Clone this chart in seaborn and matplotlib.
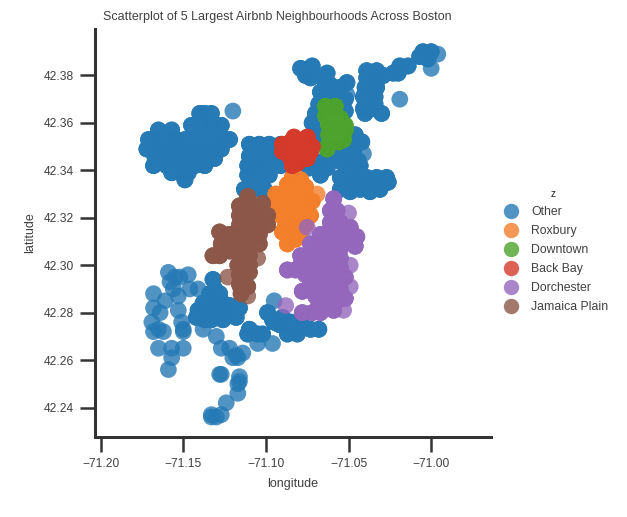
import numpy as np
import pandas as pd
import matplotlib
matplotlib.use("Agg")
import matplotlib.pyplot as plt
import seaborn as sns

neighbourhoods = ['Other', 'Roxbury', 'Downtown', 'Back Bay', 'Dorchester', 'Jamaica Plain']
colors = ['#2579b5', '#f37f2b', '#4da32d', '#d53a2a', '#9467bd', '#8c5749']

# spots with several listings stacked on them (solid colour)
other_lon = [
    # brighton / allston
    -71.140, -71.137, -71.133, -71.145, -71.139, -71.133, -71.127, -71.165, -71.157,
    -71.171, -71.167, -71.161, -71.155, -71.149, -71.143, -71.137, -71.131, -71.125, -71.122,
    -71.172, -71.167, -71.161, -71.155, -71.149, -71.143, -71.137, -71.131, -71.127,
    -71.167, -71.161, -71.155, -71.149, -71.143, -71.137, -71.131,
    -71.168, -71.160, -71.155, -71.149, -71.143, -71.137, -71.157, -71.152, -71.147, -71.149,
    # fenway / south end
    -71.110, -71.104, -71.098, -71.091, -71.110, -71.104, -71.098, -71.091,
    -71.111, -71.105, -71.098, -71.091, -71.111, -71.105, -71.098, -71.113, -71.107, -71.101,
    # charlestown / north
    -71.079, -71.072, -71.063, -71.073, -71.065, -71.061, -71.064, -71.051, -71.055,
    -71.070, -71.072, -71.070, -71.070, -71.061, -71.052, -71.052, -71.068,
    -71.058, -71.064, -71.076, -71.067, -71.058,
    # east boston
    -71.039, -71.033, -71.039, -71.033, -71.029, -71.040, -71.033, -71.041, -71.034, -71.041,
    -71.034, -71.040, -71.030, -71.023, -71.019, -71.014, -71.020,
    -71.005, -71.000, -71.007, -71.002, -71.036, -71.036,
    # south boston
    -71.042, -71.046, -71.044, -71.049, -71.056, -71.050, -71.065, -71.069, -71.063,
    -71.074, -71.055, -71.055, -71.049, -71.043, -71.037, -71.031, -71.026, -71.027, -71.033,
    -71.039, -71.045, -71.050, -71.067, -71.052, -71.058, -71.047, -71.043, -71.061, -71.052,
    -71.049, -71.043, -71.037, -71.031,
    # roslindale core
    -71.138, -71.134, -71.130, -71.126, -71.141, -71.137, -71.133, -71.129, -71.125, -71.122,
    -71.116, -71.118, -71.122, -71.126, -71.137, -71.142, -71.133, -71.132, -71.131, -71.134, -71.128,
    # mattapan
    -71.110, -71.111, -71.105, -71.102, -71.099, -71.095, -71.090,
    -71.087, -71.085, -71.081, -71.079, -71.073, -71.068, -71.096, -71.092, -71.079,
]
other_lat = [
    42.364, 42.364, 42.364, 42.359, 42.359, 42.359, 42.359, 42.357, 42.357,
    42.353, 42.353, 42.353, 42.353, 42.353, 42.353, 42.353, 42.353, 42.353, 42.353,
    42.349, 42.349, 42.349, 42.349, 42.349, 42.349, 42.349, 42.349, 42.349,
    42.345, 42.345, 42.345, 42.345, 42.345, 42.345, 42.345,
    42.342, 42.342, 42.342, 42.342, 42.342, 42.342, 42.339, 42.339, 42.339, 42.336,
    42.351, 42.351, 42.351, 42.351, 42.346, 42.346, 42.346, 42.346,
    42.342, 42.342, 42.342, 42.342, 42.338, 42.338, 42.338, 42.332, 42.332, 42.332,
    42.383, 42.384, 42.381, 42.379, 42.379, 42.376, 42.373, 42.377, 42.375,
    42.364, 42.360, 42.356, 42.352, 42.370, 42.370, 42.365, 42.368,
    42.372, 42.376, 42.380, 42.373, 42.366,
    42.382, 42.382, 42.379, 42.378, 42.380, 42.375, 42.375, 42.371, 42.371, 42.366,
    42.368, 42.364, 42.364, 42.381, 42.384, 42.384, 42.381,
    42.390, 42.390, 42.388, 42.387, 42.373, 42.366,
    42.352, 42.355, 42.344, 42.352, 42.344, 42.341, 42.344, 42.341, 42.341,
    42.341, 42.337, 42.332, 42.331, 42.332, 42.331, 42.333, 42.335, 42.337, 42.337,
    42.337, 42.337, 42.336, 42.338, 42.349, 42.349, 42.348, 42.342, 42.347, 42.344,
    42.332, 42.334, 42.334, 42.332,
    42.284, 42.284, 42.285, 42.284, 42.281, 42.281, 42.280, 42.280, 42.282, 42.283,
    42.282, 42.278, 42.279, 42.277, 42.277, 42.278, 42.277, 42.294, 42.290, 42.288, 42.288,
    42.273, 42.271, 42.271, 42.271, 42.280, 42.276, 42.278,
    42.271, 42.276, 42.271, 42.273, 42.273, 42.273, 42.277, 42.275, 42.277,
]
roxbury_lon = [-71.084, -71.079, -71.087, -71.076, -71.094, -71.088, -71.082, -71.076,
               -71.094, -71.088, -71.082, -71.076, -71.072, -71.091, -71.085, -71.079, -71.073,
               -71.088, -71.082, -71.076, -71.090, -71.085, -71.079, -71.087, -71.082]
roxbury_lat = [42.337, 42.336, 42.334, 42.333, 42.330, 42.330, 42.330, 42.330,
               42.326, 42.325, 42.325, 42.325, 42.327, 42.321, 42.321, 42.321, 42.321,
               42.317, 42.317, 42.317, 42.314, 42.313, 42.314, 42.309, 42.311]
downtown_lon = [-71.064, -71.058, -71.064, -71.059, -71.055, -71.062, -71.057, -71.052,
                -71.062, -71.056, -71.052, -71.062, -71.056, -71.053, -71.063]
downtown_lat = [42.367, 42.367, 42.363, 42.363, 42.362, 42.359, 42.359, 42.359,
                42.355, 42.355, 42.357, 42.351, 42.352, 42.353, 42.349]
back_bay_lon = [-71.090, -71.083, -71.075, -71.072, -71.090, -71.085, -71.079, -71.073,
                -71.085, -71.079, -71.075, -71.084, -71.081, -71.079, -71.085]
back_bay_lat = [42.351, 42.354, 42.354, 42.350, 42.348, 42.349, 42.349, 42.348,
                42.345, 42.345, 42.345, 42.342, 42.343, 42.352, 42.352]
dorchester_lon = [-71.059, -71.061, -71.057, -71.055, -71.061, -71.055, -71.061, -71.049,
                  -71.067, -71.061, -71.055, -71.049, -71.045, -71.073, -71.067, -71.061, -71.055, -71.046,
                  -71.079, -71.073, -71.067, -71.061, -71.055, -71.079, -71.073, -71.067, -71.061, -71.055,
                  -71.087, -71.082, -71.076, -71.070, -71.064, -71.058, -71.052, -71.073, -71.067,
                  -71.061, -71.055, -71.078, -71.070, -71.064, -71.058, -71.052, -71.072, -71.067,
                  -71.078, -71.064, -71.059, -71.057, -71.068, -71.067, -71.061]
dorchester_lat = [42.328, 42.323, 42.323, 42.318, 42.318, 42.314, 42.314, 42.316,
                  42.313, 42.311, 42.311, 42.311, 42.312, 42.309, 42.309, 42.307, 42.307, 42.308,
                  42.304, 42.304, 42.304, 42.303, 42.303, 42.300, 42.300, 42.300, 42.299, 42.299,
                  42.298, 42.298, 42.296, 42.296, 42.295, 42.295, 42.295, 42.292, 42.292,
                  42.290, 42.290, 42.289, 42.287, 42.286, 42.286, 42.286, 42.280, 42.280,
                  42.280, 42.282, 42.281, 42.285, 42.283, 42.284, 42.283]
jamaica_plain_lon = [-71.111, -71.102, -71.116, -71.110, -71.105, -71.099, -71.116, -71.110, -71.099, -71.116,
                     -71.110, -71.104, -71.128, -71.122, -71.116, -71.110, -71.104, -71.132, -71.127, -71.122,
                     -71.116, -71.110, -71.104, -71.128, -71.122, -71.116, -71.110, -71.117, -71.113,
                     -71.110, -71.110, -71.116, -71.116, -71.111, -71.115, -71.115]
jamaica_plain_lat = [42.329, 42.326, 42.325, 42.325, 42.321, 42.321, 42.321, 42.321, 42.317, 42.317,
                     42.317, 42.317, 42.314, 42.313, 42.313, 42.313, 42.313, 42.304, 42.309, 42.309,
                     42.309, 42.309, 42.309, 42.304, 42.306, 42.304, 42.304, 42.300, 42.298,
                     42.297, 42.300, 42.296, 42.292, 42.291, 42.290, 42.288]

# single listings (see-through colour)
other_single_lon = [
    -71.120, -71.019, -71.051, -71.041, -70.996, -71.000,
    # west roxbury
    -71.159, -71.155, -71.147, -71.152, -71.158, -71.156, -71.146, -71.141,
    -71.168, -71.161, -71.153, -71.168, -71.164, -71.153, -71.151, -71.169, -71.168, -71.165,
    -71.162, -71.150, -71.150, -71.138, -71.130, -71.150, -71.157, -71.165, -71.157, -71.159,
    # hyde park
    -71.127, -71.122, -71.114, -71.120, -71.117, -71.118, -71.128, -71.127, -71.116, -71.117,
    -71.117, -71.116, -71.124, -71.133, -71.133, -71.127, -71.130,
    # mattapan edge
    -71.105, -71.096, -71.095, -71.095,
]
other_single_lat = [
    42.365, 42.370, 42.372, 42.347, 42.389, 42.383,
    42.297, 42.295, 42.296, 42.295, 42.293, 42.290, 42.290, 42.290,
    42.288, 42.285, 42.287, 42.282, 42.280, 42.281, 42.276, 42.276, 42.272, 42.273,
    42.272, 42.273, 42.272, 42.273, 42.270, 42.265, 42.265, 42.265, 42.261, 42.256,
    42.265, 42.265, 42.263, 42.261, 42.261, 42.262, 42.254, 42.254, 42.253, 42.250,
    42.246, 42.251, 42.242, 42.237, 42.236, 42.237, 42.236,
    42.267, 42.267, 42.285, 42.276,
]
roxbury_single_lon = [-71.069]
roxbury_single_lat = [42.330]
dorchester_single_lon = [-71.075, -71.050, -71.088, -71.053, -71.049, -71.049]
dorchester_single_lat = [42.316, 42.322, 42.283, 42.281, 42.300, 42.291]
jamaica_plain_single_lon = [-71.123, -71.111, -71.105]
jamaica_plain_single_lat = [42.295, 42.287, 42.303]

x_ticks = [-71.20, -71.15, -71.10, -71.05, -71.00]
y_ticks = [42.24, 42.26, 42.28, 42.30, 42.32, 42.34, 42.36, 42.38]
stacked = 3

sns.set_theme(style='ticks', context='notebook')
plt.rcParams['font.family'] = ['Liberation Sans', 'DejaVu Sans']

dense = [(other_lon, other_lat), (roxbury_lon, roxbury_lat), (downtown_lon, downtown_lat),
         (back_bay_lon, back_bay_lat), (dorchester_lon, dorchester_lat), (jamaica_plain_lon, jamaica_plain_lat)]
single = [(other_single_lon, other_single_lat), (roxbury_single_lon, roxbury_single_lat), ([], []),
          ([], []), (dorchester_single_lon, dorchester_single_lat), (jamaica_plain_single_lon, jamaica_plain_single_lat)]
frames = []
for name, (lon, lat), (lon1, lat1) in zip(neighbourhoods, dense, single):
    frames.append(pd.DataFrame({'longitude': np.repeat(lon, stacked), 'latitude': np.repeat(lat, stacked), 'z': name}))
    if lon1:
        frames.append(pd.DataFrame({'longitude': lon1, 'latitude': lat1, 'z': name}))
df = pd.concat(frames, ignore_index=True)

fig = plt.figure(figsize=(627 / 72, 517 / 72), dpi=72)
ax = fig.add_axes([95 / 627, 1 - 436.7 / 517, (490.7 - 95) / 627, (436.7 - 29) / 517])
sns.scatterplot(data=df, x='longitude', y='latitude', hue='z', hue_order=neighbourhoods,
                palette=colors, s=280, alpha=0.8, linewidth=0, ax=ax, legend='full')
ax.set_xlim(-71.2034, -70.964)
ax.set_ylim(42.2277, 42.3996)
ax.set_xticks(x_ticks)
ax.set_yticks(y_ticks)
ax.set_yticklabels(['%.2f' % t for t in y_ticks])
ax.set_xticklabels(['\u2212%.2f' % abs(t) for t in x_ticks])
ax.tick_params(length=15, width=2.5, labelsize=12, pad=6, color='.2', labelcolor='.25')
for side in ['left', 'bottom']:
    ax.spines[side].set_linewidth(3)
    ax.spines[side].set_color('.2')
sns.despine(ax=ax)
ax.set_xlabel('longitude', fontsize=12.5, color='.25', labelpad=8)
ax.set_ylabel('latitude', fontsize=12.5, color='.25', labelpad=8)
fig.text(277 / 627, 1 - 17 / 517, 'Scatterplot of 5 Largest Airbnb Neighbourhoods Across Boston',
         fontsize=12.5, color='.25', ha='center', va='center')

sns.move_legend(ax, loc='center left', bbox_to_anchor=(0.992, 0.455), frameon=False, title='z',
                fontsize=12.2, title_fontsize=10, labelspacing=0.58, handletextpad=0.7, markerscale=0.92)
for text in ax.get_legend().get_texts():
    text.set_color('.25')

plt.savefig('out.png', dpi=72)
